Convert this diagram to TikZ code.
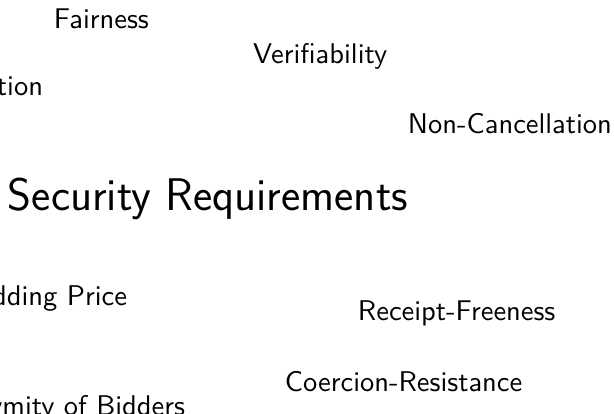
\documentclass[tikz,border=0pt]{standalone}
\begin{document}
\begin{tikzpicture}[x=0.365pt,y=-0.365pt,
  req/.style={font=\sffamily\fontsize{10.4}{12}\selectfont, inner sep=0pt, outer sep=0pt},
  root/.style={font=\sffamily\fontsize{16.7}{20}\selectfont, inner sep=0pt, outer sep=0pt}]
\clip (0,0) rectangle (614,414);
\fill[white] (0,0) rectangle (614,414);
% central concept
\node[root, anchor=base west] (sec) at (8,210) {Security Requirements};
% surrounding requirements
\node[req, anchor=base west] (fair) at (54,28) {Fairness};
\node[req, anchor=base west] (verif) at (253,63) {Verifiability};
\node[req, anchor=base east] (nonrep) at (43,95) {Non-Repudiation};
\node[req, anchor=base west] (noncanc) at (408,133) {Non-Cancellation};
\node[req, anchor=base east] (price) at (127,305) {Secrecy of Bidding Price};
\node[req, anchor=base west] (receipt) at (358,320) {Receipt-Freeness};
\node[req, anchor=base west] (coerc) at (285,391) {Coercion-Resistance};
\node[req, anchor=base east] (anon) at (185,415) {Anonymity of Bidders};
\end{tikzpicture}
\end{document}
